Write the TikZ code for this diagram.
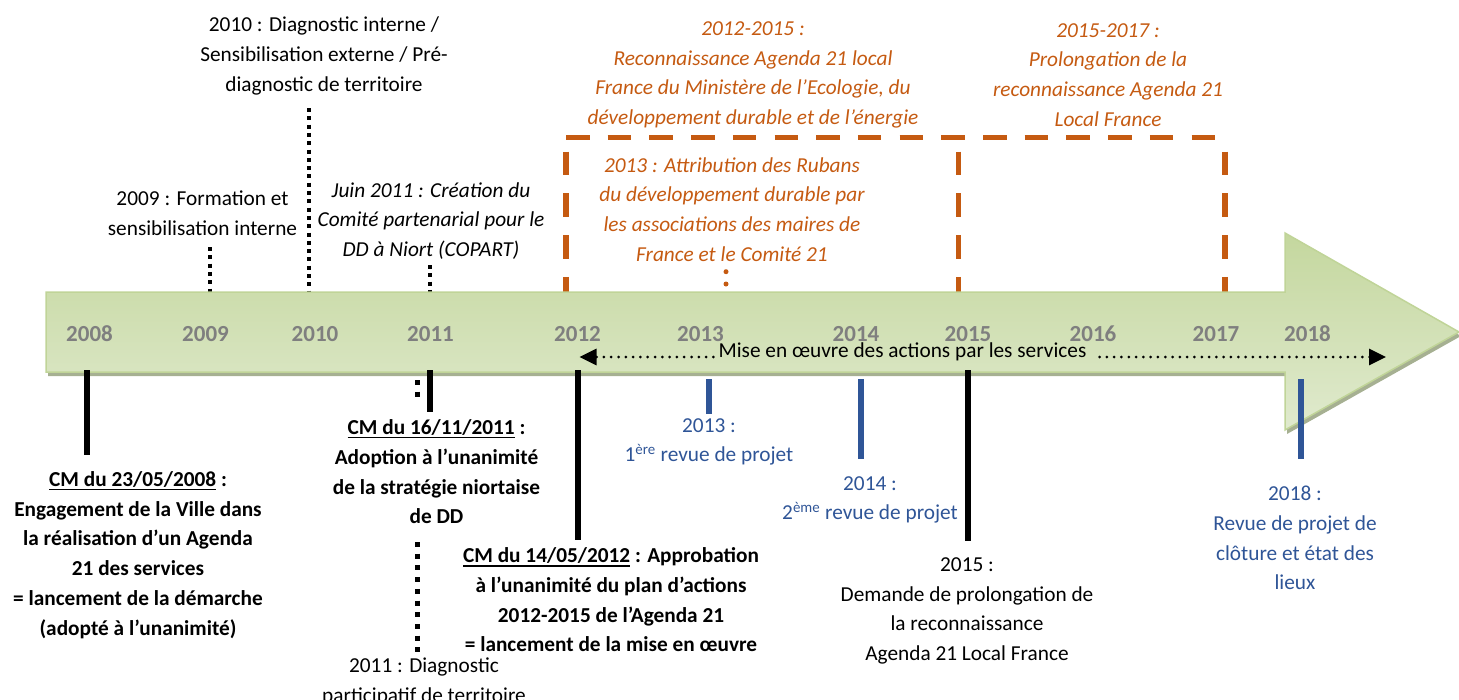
\documentclass[tikz,border=0pt]{standalone}
\usepackage{fontspec}
\setmainfont{Carlito}
\usepackage{xcolor}
\usepackage{tikz}
\usetikzlibrary{arrows.meta}

\definecolor{agorange}{RGB}{197,90,17}
\definecolor{agblue}{RGB}{47,85,151}
\definecolor{yeargrey}{RGB}{127,127,127}
\definecolor{arrowdark}{RGB}{196,215,158}
\definecolor{arrowmid}{RGB}{231,238,218}
\definecolor{arrowlight}{RGB}{224,234,206}
\definecolor{arrowedge}{RGB}{192,212,152}
\definecolor{arrowshadow}{RGB}{166,176,146}

\newcommand{\cmul}[1]{\setbox0\hbox{#1}\rlap{\rule[-4pt]{\wd0}{1.7pt}}\box0\relax}

\begin{document}
\begin{tikzpicture}[x=1pt, y=-1pt,
    txt/.style={font=\fontsize{21.3}{29.8}\selectfont, align=center, inner sep=0pt},
    txtit/.style={txt, font=\fontsize{21.3}{29.8}\selectfont\itshape},
    txtbf/.style={txt, font=\fontsize{21.3}{29.8}\selectfont\bfseries},
    yearlbl/.style={font=\fontsize{23}{27.6}\selectfont\bfseries, text=yeargrey, inner sep=0pt, anchor=base},
    dotabove/.style={line width=4pt, dash pattern=on 4pt off 4.3pt},
    dotbelow/.style={line width=5pt, dash pattern=on 5pt off 6.7pt},
    dotround/.style={line width=3pt, line cap=round, dash pattern=on 0pt off 7.3pt},
    boxdash/.style={agorange, line width=5.5pt, dash pattern=on 23.5pt off 18.2pt},
    tickblack/.style={line width=6pt},
    tickblue/.style={agblue, line width=5.5pt}]

    \useasboundingbox (0,0) rectangle (1459,699);

    \coordinate (p2009a) at (210,247);
    \coordinate (p2009b) at (210,292);
    \coordinate (p2010a) at (309,108);
    \coordinate (p2010b) at (309,292);
    \coordinate (p2011a) at (430,265);
    \coordinate (p2011b) at (430,292);

    \coordinate (bx1) at (566,137.7);
    \coordinate (bx2) at (1222,137.7);
    \coordinate (bl1) at (566,151.7);
    \coordinate (bl2) at (566,300);
    \coordinate (bm1) at (958.5,151.7);
    \coordinate (bm2) at (958.5,300);
    \coordinate (br1) at (1225,151.7);
    \coordinate (br2) at (1225,300);
    \coordinate (o2013a) at (726,271.7);
    \coordinate (o2013b) at (726,284);

    % dotted and dashed marks above the arrow
    \draw[dotabove] (p2009a) -- (p2009b);
    \draw[dotabove] (p2010a) -- (p2010b);
    \draw[dotabove] (p2011a) -- (p2011b);
    \draw[boxdash] (bx1) -- (bx2);
    \draw[boxdash] (bl1) -- (bl2);
    \draw[boxdash] (bm1) -- (bm2);
    \draw[boxdash] (br1) -- (br2);
    \draw[agorange, line width=5pt, line cap=round, dash pattern=on 0pt off 12.3pt] (o2013a) -- (o2013b);

    % the arrow
    \fill[arrowshadow, shift={(2,4)}] (46,292) -- (1285,292) -- (1285,233) -- (1459,332)
        -- (1285,430) -- (1285,372) -- (46,372) -- cycle;
    \shadedraw[top color=arrowdark, middle color=arrowmid, bottom color=arrowlight,
        draw=arrowedge, line width=1.5pt]
        (46,292) -- (1285,292) -- (1285,233) -- (1459,332)
        -- (1285,430) -- (1285,372) -- (46,372) -- cycle;

    \node[yearlbl] (y2008) at (89.5,341) {2008};
    \node[yearlbl] (y2009) at (205.5,341) {2009};
    \node[yearlbl] (y2010) at (315,341) {2010};
    \node[yearlbl] (y2011) at (430.5,341) {2011};
    \node[yearlbl] (y2012) at (577.5,341) {2012};
    \node[yearlbl] (y2013) at (700.5,341) {2013};
    \node[yearlbl] (y2014) at (856,341) {2014};
    \node[yearlbl] (y2015) at (968,341) {2015};
    \node[yearlbl] (y2016) at (1093,341) {2016};
    \node[yearlbl] (y2017) at (1216,341) {2017};
    \node[yearlbl] (y2018) at (1307.5,341) {2018};

    \node[txt, anchor=base] (mise) at (902.5,357) {Mise en œuvre des actions par les services};
    \coordinate (m1) at (579.5,357);
    \coordinate (m2) at (1386,357);
    \draw[dotround, -{Triangle[length=17pt,width=16pt]}, shorten <=5pt] (mise.base west) -- (m1);
    \draw[dotround, -{Triangle[length=17pt,width=16pt]}, shorten <=13pt] (mise.base east) -- (m2);

    % texts above
    \node[txt] (t2010) at (324,56) {2010 : Diagnostic interne /\\Sensibilisation externe / Pré-\\diagnostic de territoire};
    \node[txt] (t2009) at (202.5,213.5) {2009 : Formation et\\sensibilisation interne};
    \node[txtit] (tjuin) at (431,221) {Juin 2011 : Création du\\Comité partenarial pour le\\DD à Niort (COPART)};
    \node[txtit, text=agorange] (t1215) at (753,75) {2012-2015 :\\Reconnaissance Agenda 21 local\\France du Ministère de l’Ecologie, du\\développement durable et de l’énergie};
    \node[txtit, text=agorange] (t1517) at (1108,75) {2015-2017 :\\Prolongation de la\\reconnaissance Agenda 21\\Local France};
    \node[txtit, text=agorange] (trubans) at (732,209.5) {2013 : Attribution des Rubans\\du développement durable par\\les associations des maires de\\France et le Comité 21};

    % texts below
    \node[txtbf] (t2008) at (138,555) {\cmul{CM du 23/05/2008} :\\Engagement de la Ville dans\\la réalisation d’un Agenda\\21 des services\\= lancement de la démarche\\(adopté à l’unanimité)};
    \node[txtbf] (t2011cm) at (436.5,471.7) {\cmul{CM du 16/11/2011} :\\Adoption à l’unanimité\\de la stratégie niortaise\\de DD};
    \node[txtbf] (t2012cm) at (611,599.8) {\cmul{CM du 14/05/2012} : Approbation\\à l’unanimité du plan d’actions\\2012-2015 de l’Agenda 21\\= lancement de la mise en œuvre};
    \node[txt] (t2011diag) at (424,681.7) {2011 : Diagnostic\\participatif de territoire};
    \node[txt, text=agblue] (t2013rev) at (709,442) {2013 :\\1\textsuperscript{ère} revue de projet};
    \node[txt, text=agblue] (t2014rev) at (870,500) {2014 :\\2\textsuperscript{ème} revue de projet};
    \node[txt] (t2015) at (967,611) {2015 :\\Demande de prolongation de\\la reconnaissance\\Agenda 21 Local France};
    \node[txt, text=agblue] (t2018) at (1295,538) {2018 :\\Revue de projet de\\clôture et état des\\lieux};

    \coordinate (k2008a) at (86.5,370);
    \coordinate (k2008b) at (86.5,455);
    \coordinate (k2011a) at (430,370);
    \coordinate (k2011b) at (430,412);
    \coordinate (k2012a) at (578,370);
    \coordinate (k2012b) at (578,540);
    \coordinate (k2015a) at (967.5,370);
    \coordinate (k2015b) at (967.5,541);
    \coordinate (k2013a) at (709,379);
    \coordinate (k2013b) at (709,414);
    \coordinate (k2014a) at (861,379);
    \coordinate (k2014b) at (861,459);
    \coordinate (k2018a) at (1301,379);
    \coordinate (k2018b) at (1301,459);
    \coordinate (q1a) at (417,380);
    \coordinate (q1b) at (417,398);
    \coordinate (q2a) at (417,542);
    \coordinate (q2b) at (417,652);

    % marks below the arrow
    \draw[tickblack] (k2008a) -- (k2008b);
    \draw[tickblack] (k2011a) -- (k2011b);
    \draw[tickblack] (k2012a) -- (k2012b);
    \draw[tickblack] (k2015a) -- (k2015b);
    \draw[tickblue] (k2013a) -- (k2013b);
    \draw[tickblue] (k2014a) -- (k2014b);
    \draw[tickblue] (k2018a) -- (k2018b);
    \draw[dotbelow] (q1a) -- (q1b);
    \draw[dotbelow] (q2a) -- (q2b);

\end{tikzpicture}
\end{document}
